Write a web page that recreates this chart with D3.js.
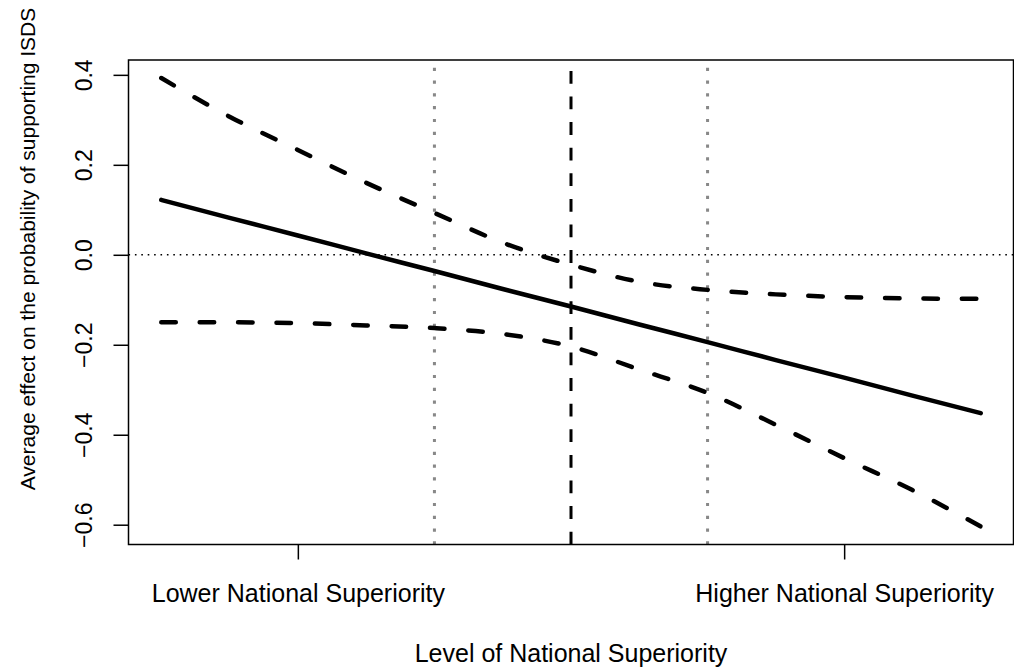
<!DOCTYPE html>
<html>
  <head>
    <meta charset="utf-8">
    <title></title>
    <script type="text/javascript" src="https://d3js.org/d3.v7.min.js"></script>
    <style media="screen">
      body { margin: 0; background: #fff; }
      text { font-family: "Liberation Sans", Arial, Helvetica, sans-serif; fill: #000; }
    </style>
  </head>
  <body>

    <script type="text/javascript">

      // national superiority levels (1..7) the effect was computed at
      var levels = [1, 1.5, 2, 2.5, 3, 3.5, 4, 4.5, 5, 5.5, 6, 6.5, 7];
      var estimate = [0.122, 0.082, 0.043, 0.003, -0.036, -0.076, -0.115, -0.155, -0.194, -0.234, -0.273, -0.313, -0.352];
      var upper = [0.393, 0.307, 0.233, 0.160, 0.093, 0.027, -0.022, -0.060, -0.078, -0.088, -0.094, -0.097, -0.098];
      var lower = [-0.150, -0.150, -0.152, -0.157, -0.163, -0.176, -0.204, -0.255, -0.307, -0.378, -0.452, -0.523, -0.604];

      var meanLevel = 4;
      var sdLevels = [3, 5];
      var xTicks = [2, 6];
      var xTickLabels = ["Lower National Superiority", "Higher National Superiority"];
      var yTicks = [0.4, 0.2, 0.0, -0.2, -0.4, -0.6];

      var w = 1014;
      var h = 672;

      var xscale = d3.scaleLinear()
        .domain([0.76, 7.24])
        .range([128.5, 1013.5]);

      var yscale = d3.scaleLinear()
        .domain([-0.644, 0.433])
        .range([544.5, 60]);

      var svg = d3.select('body')
        .append('svg')
        .attr('width', w)
        .attr('height', h);

      svg.append('rect')
        .attr('width', w)
        .attr('height', h)
        .attr('fill', '#fff');

      var x0 = xscale.range()[0], x1 = xscale.range()[1];
      var yb = yscale.range()[0], yt = yscale.range()[1];

      // zero line
      svg.append('line')
        .attr('x1', x0).attr('x2', x1)
        .attr('y1', yscale(0)).attr('y2', yscale(0))
        .attr('stroke', '#000')
        .attr('stroke-width', 1.5)
        .attr('stroke-dasharray', '1.6,4.8');

      // mean +/- sd
      svg.selectAll('line.sd')
        .data(sdLevels)
        .enter()
        .append('line')
        .attr('class', 'sd')
        .attr('x1', function(d){ return xscale(d); })
        .attr('x2', function(d){ return xscale(d); })
        .attr('y1', yb).attr('y2', yt)
        .attr('stroke', '#888')
        .attr('stroke-width', 3)
        .attr('stroke-dasharray', '3.2,9.6');

      // mean
      svg.append('line')
        .attr('x1', xscale(meanLevel)).attr('x2', xscale(meanLevel))
        .attr('y1', yb).attr('y2', yt)
        .attr('stroke', '#000')
        .attr('stroke-width', 3)
        .attr('stroke-dasharray', '12.8,12.8');

      var line = d3.line()
        .x(function(d, i){ return xscale(levels[i]); })
        .y(function(d){ return yscale(d); })
        .curve(d3.curveMonotoneX);

      svg.append('path')
        .attr('d', line(estimate))
        .attr('fill', 'none')
        .attr('stroke', '#000')
        .attr('stroke-width', 4.5)
        .attr('stroke-linecap', 'round');

      [upper, lower].forEach(function(s){
        svg.append('path')
          .attr('d', line(s))
          .attr('fill', 'none')
          .attr('stroke', '#000')
          .attr('stroke-width', 4.5)
          .attr('stroke-linecap', 'round')
          .attr('stroke-dasharray', '14.5,23.9');
      });

      // box
      svg.append('rect')
        .attr('x', x0).attr('y', yt)
        .attr('width', x1 - x0).attr('height', yb - yt)
        .attr('fill', 'none')
        .attr('stroke', '#000')
        .attr('stroke-width', 1.5);

      var yAxis = d3.axisLeft(yscale)
        .tickValues(yTicks)
        .tickSize(15)
        .tickFormat(d3.format('.1f'));

      var xAxis = d3.axisBottom(xscale)
        .tickValues(xTicks)
        .tickSize(15)
        .tickFormat(function(d, i){ return xTickLabels[i]; });

      var gy = svg.append('g')
        .attr('class', 'y axis')
        .attr('transform', 'translate(' + x0 + ',0)')
        .call(yAxis);
      gy.select('.domain').remove();
      gy.selectAll('line').attr('stroke', '#000').attr('stroke-width', 1.5);
      gy.selectAll('text')
        .attr('x', null).attr('dy', null)
        .attr('transform', 'translate(-36.5,0)rotate(-90)')
        .attr('text-anchor', 'middle')
        .style('font-size', '23px')
        .style('font-family', '"Liberation Sans", Arial, sans-serif')
        .attr('fill', '#000');

      var gx = svg.append('g')
        .attr('class', 'x axis')
        .attr('transform', 'translate(0,' + yb + ')')
        .call(xAxis);
      gx.select('.domain').remove();
      gx.selectAll('line').attr('stroke', '#000').attr('stroke-width', 1.5);
      gx.selectAll('text')
        .attr('y', 57).attr('dy', null)
        .style('font-size', '25px')
        .style('font-family', '"Liberation Sans", Arial, sans-serif')
        .attr('fill', '#000');

      svg.append('text')
        .attr('transform', 'translate(' + ((x0 + x1) / 2) + ',661.5)')
        .attr('text-anchor', 'middle')
        .style('font-size', '25px')
        .text('Level of National Superiority');

      svg.append('text')
        .attr('transform', 'translate(35,249)rotate(-90)')
        .attr('text-anchor', 'middle')
        .style('font-size', '21px')
        .text('Average effect on the probability of supporting ISDS');

    </script>

  </body>
</html>
